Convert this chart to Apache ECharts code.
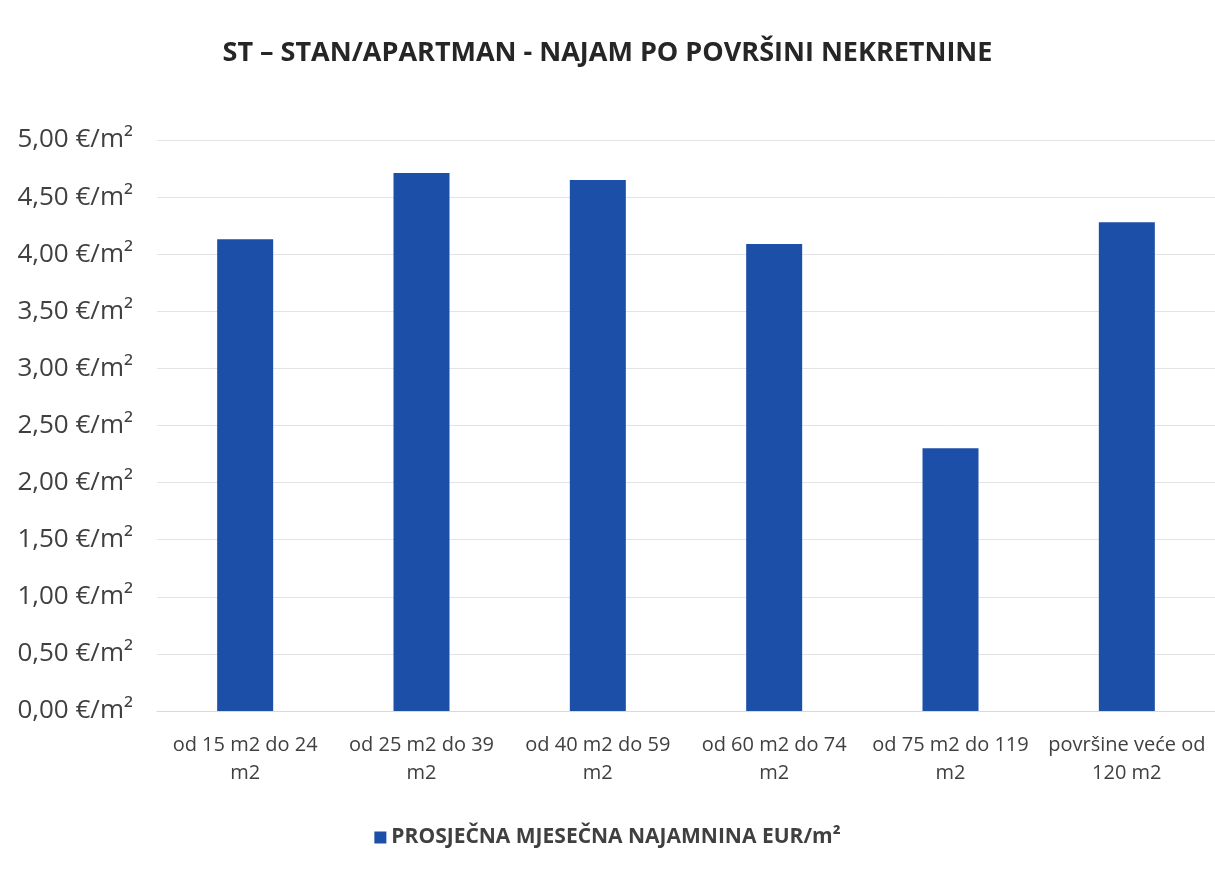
<!DOCTYPE html>
<html>
<head>
<meta charset="utf-8">
<script src="https://cdn.jsdelivr.net/npm/echarts@6/dist/echarts.min.js"></script>
<style>
html, body { margin: 0; padding: 0; background: #fff; }
#chart { width: 1215px; height: 875px; }
</style>
</head>
<body>
<div id="chart"></div>
<script>
// categories (line break as in the original labels)
var categories = ['od 15 m2 do 24\nm2', 'od 25 m2 do 39\nm2', 'od 40 m2 do 59\nm2',
                  'od 60 m2 do 74\nm2', 'od 75 m2 do 119\nm2', 'površine veće od\n120 m2'];
// average monthly rent, EUR/m2
var rentValues = [4.13, 4.71, 4.65, 4.09, 2.30, 4.28];
var seriesName = 'PROSJEČNA MJESEČNA NAJAMNINA EUR/m²';

var myChart = echarts.init(document.getElementById('chart'));
var option = {
    backgroundColor: '#fff',
    title: {
        text: 'ST – STAN/APARTMAN - NAJAM PO POVRŠINI NEKRETNINE',
        left: 'center',
        top: 35,
        textStyle: { fontFamily: 'Open Sans', fontSize: 27, fontWeight: 'bold', color: '#262626' }
    },
    legend: {
        data: [seriesName],
        bottom: 22,
        left: 'center',
        itemWidth: 12,
        itemHeight: 12,
        itemGap: 5,
        icon: 'rect',
        textStyle: { fontFamily: 'Open Sans', fontSize: 21, fontWeight: 'bold', color: '#404040' }
    },
    grid: { left: 157, right: -3, top: 140, bottom: 164 },
    xAxis: {
        type: 'category',
        data: categories,
        axisLine: { lineStyle: { color: '#d9d9d9' } },
        axisTick: { show: false },
        axisLabel: {
            interval: 0,
            margin: 20,
            lineHeight: 28,
            fontFamily: 'Open Sans',
            fontSize: 20,
            color: '#404040'
        }
    },
    yAxis: {
        type: 'value',
        min: 0,
        max: 5,
        interval: 0.5,
        axisLine: { show: false },
        axisTick: { show: false },
        splitLine: { lineStyle: { color: '#e3e3e3' } },
        axisLabel: {
            margin: 24,
            fontFamily: 'Open Sans',
            fontSize: 26,
            color: '#404040',
            formatter: function (v) { return v.toFixed(2).replace('.', ',') + ' €/m²'; }
        }
    },
    series: [{
        name: seriesName,
        type: 'bar',
        data: rentValues,
        barWidth: 56,
        itemStyle: { color: '#1c4fa8' }
    }]
};
myChart.setOption(option);
</script>
</body>
</html>
